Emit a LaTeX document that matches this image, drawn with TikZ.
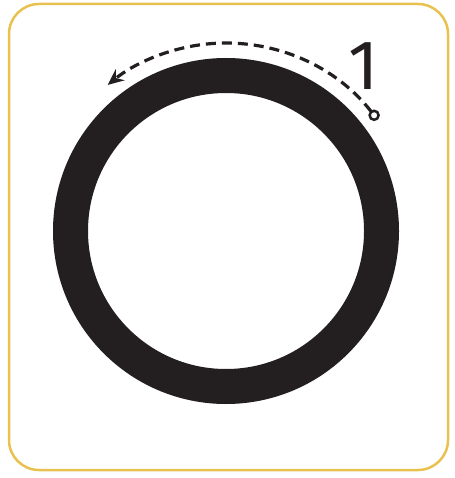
\documentclass[tikz,border=0pt]{standalone}
\usepackage{fontspec}
\newfontfamily\numfont{Fira Sans}
\usetikzlibrary{arrows.meta}
\definecolor{frame}{HTML}{E9C14F}
\definecolor{ink}{HTML}{231F20}
\tikzset{
  framebox/.style={draw=frame, line width=2.5pt, rounded corners=30pt},
  ring/.style={draw=ink, line width=35pt},
  guide/.style={draw=ink, line width=3.2pt, dash pattern=on 10pt off 6pt, shorten <=5pt, -{Stealth[length=16pt,width=14pt]}},
  startdot/.style={circle, draw=ink, fill=white, line width=2.5pt, minimum size=9pt, inner sep=0pt},
  numlabel/.style={text=ink, font=\numfont\fontsize{70}{70}\selectfont, inner sep=0pt}
}
\begin{document}
\begin{tikzpicture}[x=1pt,y=-1pt]
\useasboundingbox (0,0) rectangle (454,478);
\draw[framebox] (9,4) rectangle (448,470);
\coordinate (c) at (226,231);
\draw[ring] (c) circle[radius=155.5];
\coordinate (dotc) at (374.1,115.3);
\draw[guide] (dotc) arc[start angle=-38, end angle=-129, radius=188];
\node[startdot] (dot) at (dotc) {};
\node[numlabel] (one) at (364,66) {1};
\end{tikzpicture}
\end{document}
